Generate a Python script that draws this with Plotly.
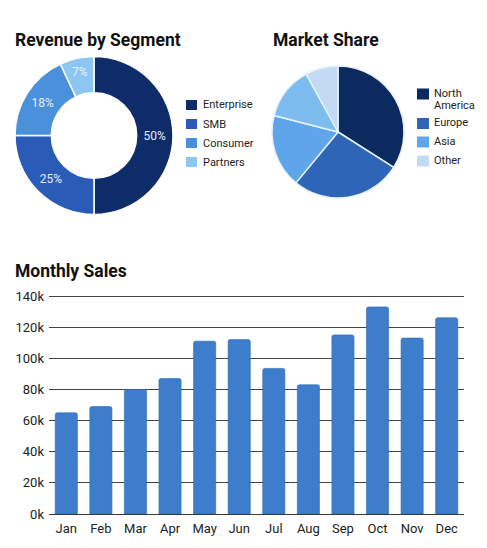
import plotly.graph_objects as go

# ---------------- data ----------------
segment_labels = ["Enterprise", "SMB", "Consumer", "Partners"]
segment_values = [50, 25, 18, 7]
segment_colors = ["#0d2c69", "#2a5bb6", "#4b90db", "#8cc7f1"]

market_labels = ["North America", "Europe", "Asia", "Asia Pacific", "Other"]
market_values = [34, 27, 18, 13, 8]
market_colors = ["#0b2a5f", "#2f65b7", "#5ea6e9", "#7dbcef", "#c3daf4"]
market_legend = ["North America", "Europe", "Asia", "Other"]
market_legend_colors = ["#0b2a5f", "#2f65b7", "#5ea6e9", "#c3daf4"]

months = ["Jan", "Feb", "Mar", "Apr", "May", "Jun", "Jul", "Aug", "Sep", "Oct", "Nov", "Dec"]
sales = [65000, 69000, 80000, 87000, 111000, 112000, 93500, 83000, 115000, 133000, 113000, 126000]
y_ticks = [0, 20000, 40000, 60000, 80000, 100000, 120000, 140000]
y_tick_labels = ["0k", "20k", "40k", "60k", "80k", "100k", "120k", "140k"]

# ---------------- layout helpers ----------------
W, H = 487, 548
FONT = "Roboto"


def px(x):
    return x / W


def py(y):
    return 1 - y / H


fig = go.Figure()

fig.add_trace(go.Pie(
    labels=segment_labels, values=segment_values,
    domain=dict(x=[px(15), px(173)], y=[py(214.5), py(56.5)]),
    hole=0.54, sort=False, direction="clockwise",
    marker=dict(colors=segment_colors, line=dict(color="white", width=1.5)),
    texttemplate="%{value}%", textposition="inside",
    insidetextorientation="horizontal",
    textfont=dict(family=FONT, size=12, color="#e4eefc"),
    showlegend=False, hoverinfo="label+percent",
))

fig.add_trace(go.Pie(
    labels=market_labels, values=market_values,
    domain=dict(x=[px(272), px(404)], y=[py(198), py(66)]),
    sort=False, direction="clockwise",
    marker=dict(colors=market_colors, line=dict(color="#e6f2ff", width=1.5)),
    textinfo="none", showlegend=False, hoverinfo="label+percent",
))

fig.add_trace(go.Bar(
    x=months, y=sales,
    marker=dict(color="#3d7dcb", line=dict(color="#2e68b0", width=0.6), cornerradius=2),
    showlegend=False,
))

shapes = []
annotations = []

# titles
for text, x, y in [("Revenue by Segment", 13, 40), ("Market Share", 271, 40), ("Monthly Sales", 13, 271)]:
    annotations.append(dict(text=f"<b>{text}</b>", x=px(x), y=py(y), xref="paper", yref="paper",
                            xanchor="left", yanchor="middle", showarrow=False,
                            font=dict(family=FONT, size=17.5, color="#111111")))

# donut legend
for i, (lab, col) in enumerate(zip(segment_labels, segment_colors)):
    yc = 105 + i * 19
    shapes.append(dict(type="rect", xref="paper", yref="paper", x0=px(186), x1=px(197),
                       y0=py(yc + 5), y1=py(yc - 5), fillcolor=col, line=dict(width=0)))
    annotations.append(dict(text=lab, x=px(201), y=py(yc), xref="paper", yref="paper",
                            xanchor="left", yanchor="middle", showarrow=False,
                            font=dict(family=FONT, size=11, color="#222222")))

# market legend
leg_y = [94, 123.5, 142, 161]
for lab, col, yc in zip(market_legend, market_legend_colors, leg_y):
    shapes.append(dict(type="rect", xref="paper", yref="paper", x0=px(417), x1=px(429),
                       y0=py(yc + 5.5), y1=py(yc - 5.5), fillcolor=col, line=dict(width=0)))
    for j, word in enumerate(lab.split(" ")):
        annotations.append(dict(text=word, x=px(432), y=py(yc - 0.5 + j * 12), xref="paper", yref="paper",
                                xanchor="left", yanchor="middle", showarrow=False,
                                font=dict(family=FONT, size=11, color="#222222")))

fig.update_layout(
    width=W, height=H,
    margin=dict(l=0, r=0, t=0, b=0, autoexpand=False),
    paper_bgcolor="white", plot_bgcolor="white",
    font=dict(family=FONT, color="#222222"),
    bargap=0.36,
    shapes=shapes, annotations=annotations,
    xaxis=dict(domain=[px(49), px(464)], anchor="y", showgrid=False, showline=False,
               automargin=False, ticklabelstandoff=5,
               ticks="", tickfont=dict(family=FONT, size=13, color="#222222"), fixedrange=True),
    yaxis=dict(domain=[py(514), py(292.9)], anchor="x", range=[0, 142000],
               automargin=False, ticklabelstandoff=4,
               tickvals=y_ticks, ticktext=y_tick_labels,
               showgrid=True, gridcolor="#444444", gridwidth=1.3,
               zeroline=True, zerolinecolor="#3a3a3a", zerolinewidth=1.4,
               ticks="", tickfont=dict(family=FONT, size=13, color="#222222"), fixedrange=True),
)

fig.write_html("out.html")
